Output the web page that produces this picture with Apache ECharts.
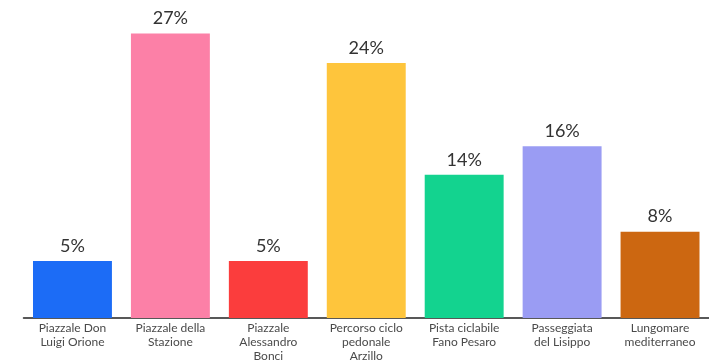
<!DOCTYPE html>
<html>
<head>
<meta charset="utf-8">
<script src="https://cdn.jsdelivr.net/npm/echarts@6/dist/echarts.min.js"></script>
<style>html,body{margin:0;padding:0;background:#fff}#c{width:709px;height:363px}</style>
</head>
<body>
<div id="c"></div>
<script>
var categories = ["Piazzale Don\nLuigi Orione", "Piazzale della\nStazione", "Piazzale\nAlessandro\nBonci", "Percorso ciclo\npedonale\nArzillo", "Pista ciclabile\nFano Pesaro", "Passeggiata\ndel Lisippo", "Lungomare\nmediterraneo"];
var values = [5.4, 27, 5.4, 24.2, 13.6, 16.3, 8.2];
var colors = ["#1c6cf6", "#fc80a7", "#fb3d3d", "#fec53c", "#13d38f", "#9a9cf3", "#cc6711"];

var chart = echarts.init(document.getElementById('c'));
chart.setOption({
  animation: false,
  grid: {left: 23.5, right: 0, top: 2, bottom: 45},
  xAxis: {
    type: 'category',
    data: categories,
    axisLine: {lineStyle: {color: '#222', width: 1.5}},
    axisTick: {show: false},
    axisLabel: {color: '#4a4a4a', fontSize: 12, fontFamily: 'Lato', lineHeight: 14, margin: 3, interval: 0}
  },
  yAxis: {type: 'value', min: 0, max: 30, show: false, splitLine: {show: false}},
  series: [{
    type: 'bar',
    data: values.map(function (v, i) { return {value: v, itemStyle: {color: colors[i]}}; }),
    barCategoryGap: '19.4%',
    label: {
      show: true, position: 'top', distance: 6,
      color: '#333', fontSize: 18, fontFamily: 'Lato',
      formatter: function (p) { return Math.round(p.value) + '%'; }
    }
  }]
});
</script>
</body>
</html>
